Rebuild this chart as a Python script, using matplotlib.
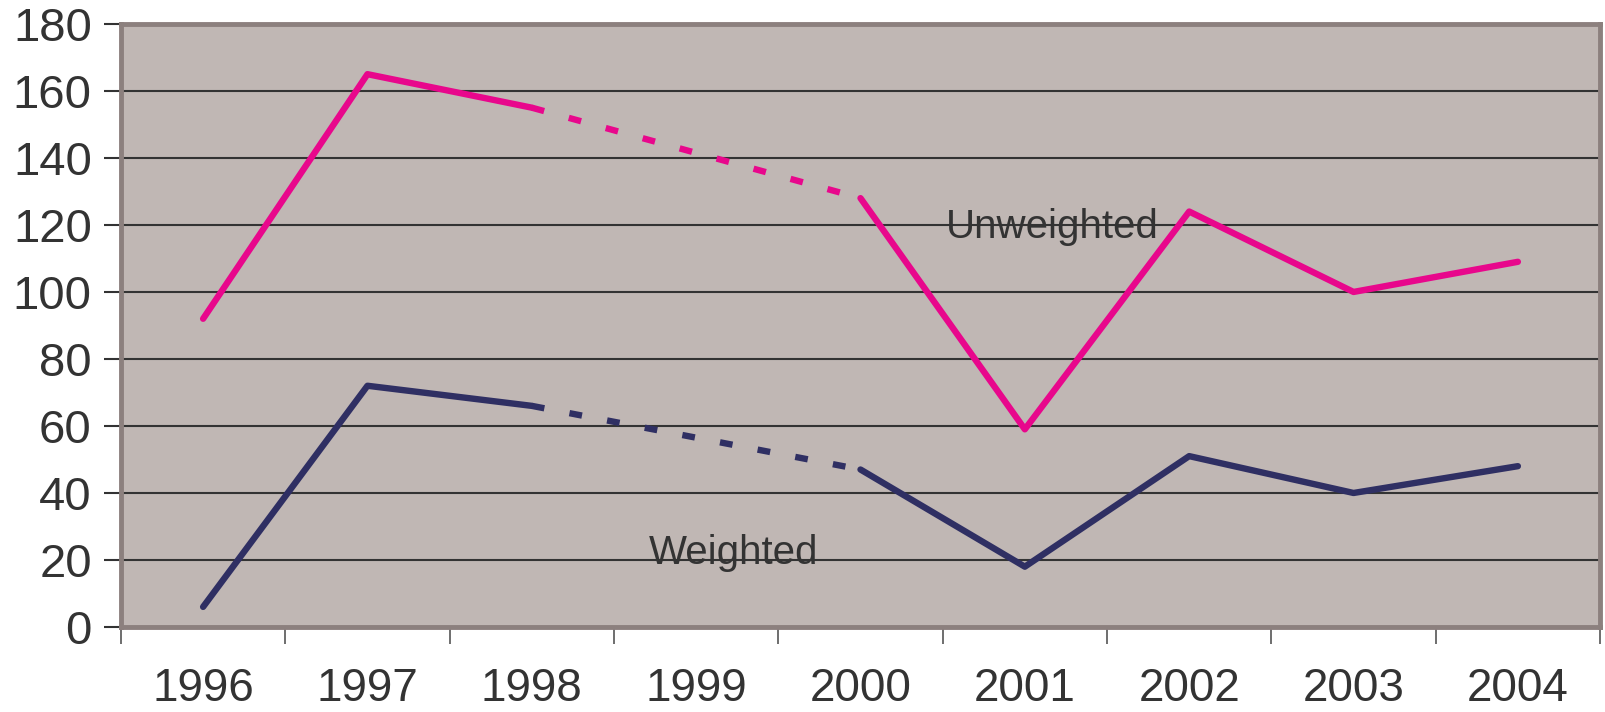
import numpy as np
import matplotlib.pyplot as plt

# data
years = ['1996', '1997', '1998', '1999', '2000', '2001', '2002', '2003', '2004']
unweighted = [92, 165, 155, np.nan, 128, 59, 124, 100, 109]
weighted = [6, 72, 66, np.nan, 47, 18, 51, 40, 48]

pink = '#e8078c'
navy = '#2f2f63'
plt.rcParams['font.family'] = ['Liberation Sans', 'DejaVu Sans']

fig = plt.figure(figsize=(16.06, 7.12), dpi=100)
ax = fig.add_axes([0.0753, 0.1194, 0.921, 0.847])
ax.set_facecolor('#c0b7b4')

x = np.arange(len(years))


def draw(vals, color):
    vals = np.array(vals, dtype=float)
    # solid parts (gaps where value is missing)
    ax.plot(x, vals, color=color, lw=4.6, solid_capstyle='round', zorder=3)
    # dotted bridge over the missing year
    ok = np.where(~np.isnan(vals))[0]
    for a, b in zip(ok[:-1], ok[1:]):
        if b - a > 1:
            ax.plot([x[a], x[b]], [vals[a], vals[b]], color=color, lw=4.6,
                    linestyle=(0, (2.0, 4.0)), dash_capstyle='butt', zorder=3)


draw(unweighted, pink)
draw(weighted, navy)

ax.text(5.17, 119.5, 'Unweighted', fontsize=29, color='#333333', ha='center', va='center')
ax.text(3.23, 22, 'Weighted', fontsize=29, color='#333333', ha='center', va='center')

ax.set_xlim(-0.5, len(years) - 0.5)
ax.set_ylim(0, 180)
ax.set_yticks(np.arange(0, 181, 20))
ax.yaxis.grid(True, color='#333333', lw=1.5)
ax.set_axisbelow(True)

ax.set_xticks(x)
ax.set_xticklabels(years)
ax.set_xticks(np.arange(-0.5, len(years), 1), minor=True)
ax.tick_params(axis='x', which='major', length=0, pad=29, labelsize=33, labelcolor='#333333')
ax.tick_params(axis='x', which='minor', length=12, width=1.2, color='#555555', direction='out')
ax.tick_params(axis='y', length=12, width=1.5, color='#333333', pad=9, labelsize=34,
               labelcolor='#333333')

for s in ax.spines.values():
    s.set_color('#8c807e')
    s.set_linewidth(3.5)

fig.savefig('out.png', dpi=100)
